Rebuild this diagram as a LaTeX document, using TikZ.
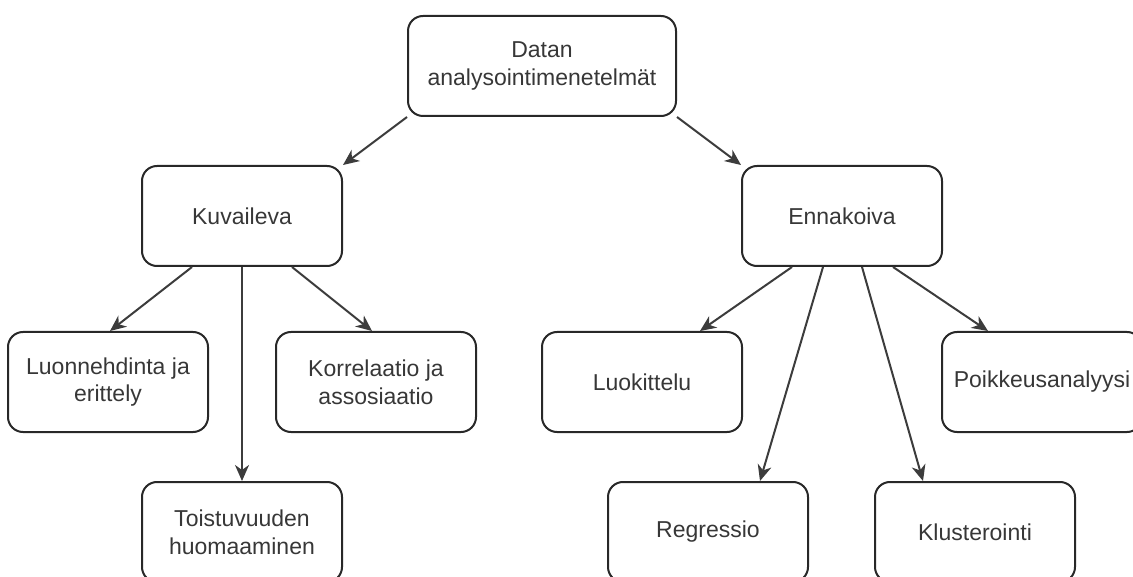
\documentclass[tikz,border=0pt]{standalone}
\usepackage{fontspec}
\setmainfont{Liberation Sans}
\usepackage{xcolor}
\usepackage{tikz}
\usetikzlibrary{arrows.meta,positioning,calc}
\definecolor{boxline}{RGB}{40,40,40}
\definecolor{labeltext}{RGB}{55,55,55}
\definecolor{edgegray}{RGB}{60,60,60}

\begin{document}
\begin{tikzpicture}[
        x=1pt, y=-1pt,
        font=\fontsize{23}{27.6}\selectfont,
        box/.style={rectangle, rounded corners=15pt, draw=boxline, line width=2pt, text=labeltext, inner sep=0pt, align=center, minimum width=200pt, minimum height=100pt},
        arrow/.style={-{Stealth[length=16pt,width=14pt,inset=5pt]}, draw=edgegray, line width=2pt}
    ]
        \useasboundingbox (0,0) rectangle (1133,577);
        \clip (0,0) rectangle (1133,577);

        \node[box, minimum width=268pt] (root) at (542,66) {Datan\\analysointimenetelmät};

        \node[box] (kuv) at (242,216) {Kuvaileva};
        \node[box] (enn) at (842,216) {Ennakoiva};

        \node[box] (luon) at (108,382) {Luonnehdinta ja\\erittely};
        \node[box, right=66pt of luon] (korr) {Korrelaatio ja\\assosiaatio};
        \node[box] (tois) at (242,532) {Toistuvuuden\\huomaaminen};

        \node[box] (luok) at (642,382) {Luokittelu};
        \node[box, right=198pt of luok] (poik) {Poikkeusanalyysi};
        \node[box] (regr) at (708,532) {Regressio};
        \node[box] (klus) at (975,532) {Klusterointi};

        \draw[arrow] (root.south west) -- (kuv.north east);
        \draw[arrow] (root.south east) -- (enn.north west);

        \draw[arrow] ([xshift=-50pt]kuv.south) -- ([xshift=2pt]luon.north);
        \draw[arrow] ([xshift=50pt]kuv.south) -- ([xshift=-4pt]korr.north);
        \draw[arrow] (kuv.south) -- (tois.north);

        \draw[arrow] ([xshift=-50pt]enn.south) -- ([xshift=58pt]luok.north);
        \draw[arrow] ([xshift=-19pt]enn.south) -- ([xshift=52pt]regr.north);
        \draw[arrow] ([xshift=20pt]enn.south) -- ([xshift=-52pt]klus.north);
        \draw[arrow] ([xshift=51pt]enn.south) -- ([xshift=-54pt]poik.north);
    \end{tikzpicture}
\end{document}
